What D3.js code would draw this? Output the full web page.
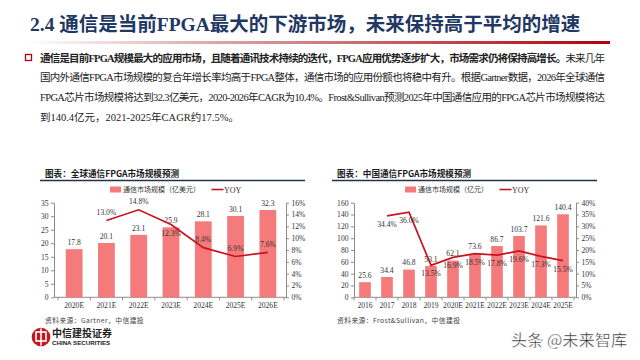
<!DOCTYPE html>
<html><head><meta charset="utf-8">
<script src="https://cdn.jsdelivr.net/npm/d3@7"></script>
<style>body{margin:0;background:#fff}svg{display:block}</style>
</head><body><svg id="c" width="640" height="360"></svg>
<script>
// ---------- data ----------
const globalYears = ["2020E","2021E","2022E","2023E","2024E","2025E","2026E"];
const globalMarket = [17.8,20.1,23.1,25.9,28.1,30.1,32.3];
const globalYoy = [null,13.0,14.8,12.3,8.4,6.9,7.6];
const globalLeftTicks = [0,5,10,15,20,25,30,35];
const globalRightTicks = [0,2,4,6,8,10,12,14,16];

const chinaYears = ["2016","2017","2018","2019","2020E","2021E","2022E","2023E","2024E","2025E"];
const chinaMarket = [25.6,34.4,46.8,53.1,62.1,73.6,86.7,103.7,121.6,140.4];
const chinaYoy = [null,34.4,36.0,13.5,16.9,18.5,17.8,19.6,17.3,15.5];
const chinaLeftTicks = [0,20,40,60,80,100,120,140,160];
const chinaRightTicks = [0,5,10,15,20,25,30,35,40];

const titleText = "2.4 通信是当前FPGA最大的下游市场，未来保持高于平均的增速";
const bodyLines = [
  ["通信是目前FPGA规模最大的应用市场，且随着通讯技术持续的迭代，FPGA应用优势逐步扩大，市场需求仍将保持高增长。","未来几年"],
  ["","国内外通信FPGA市场规模的复合年增长率均高于FPGA整体，通信市场的应用份额也将稳中有升。根据Gartner数据，2026年全球通信"],
  ["","FPGA芯片市场规模将达到32.3亿美元，2020-2026年CAGR为10.4%。Frost&Sullivan预测2025年中国通信应用的FPGA芯片市场规模将达"],
  ["","到140.4亿元，2021-2025年CAGR约17.5%。"]
];

// ---------- style ----------
const FONT = "'Liberation Serif','Noto Sans CJK SC',serif";
const CJK = "'Noto Sans CJK SC','Liberation Serif',sans-serif";
const BAR = "#f47a7b", LINE = "#c8141e", NAVY = "#1f3864", AX = "#8c8c8c";
const FS = 7.6;

const svg = d3.select("#c");
const defs = svg.append("defs");
const g = defs.append("linearGradient").attr("id","ul").attr("x1","0").attr("x2","1");
g.append("stop").attr("offset","0").attr("stop-color","#ffffff");
g.append("stop").attr("offset","0.35").attr("stop-color","#d9a0a0");
g.append("stop").attr("offset","1").attr("stop-color","#b00010");

// title
svg.append("text").attr("x",30).attr("y",31).attr("font-family",FONT).attr("font-weight","bold")
  .attr("font-size",19.5).attr("fill",NAVY).text(titleText);
svg.append("rect").attr("x",26).attr("y",41).attr("width",584).attr("height",3).attr("fill","url(#ul)");

// bullet
svg.append("rect").attr("x",25.5).attr("y",54.5).attr("width",6).attr("height",6)
  .attr("fill","none").attr("stroke","#b00010").attr("stroke-width",1.3);
bodyLines.forEach((ln,i)=>{
  const t = svg.append("text").attr("x",40).attr("y",61.5+i*19.8).attr("font-family",FONT)
    .attr("font-size",10.5).attr("fill","#222");
  if(i<3) t.attr("textLength",565).attr("lengthAdjust","spacing");
  if(ln[0]) t.append("tspan").attr("font-weight","bold").text(ln[0]);
  t.append("tspan").text(ln[1]);
});

function drawChart(cfg){
  const top = 202.7, bot = 297.3;
  const root = svg.append("g");
  // chart title
  root.append("text").attr("x",cfg.titleX).attr("y",176.5).attr("font-family",CJK).attr("font-weight","bold")
    .attr("font-size",8.6).attr("fill","#1a1a1a").text(cfg.title);
  root.append("line").attr("x1",cfg.ruleX1).attr("x2",cfg.ruleX2).attr("y1",180.5).attr("y2",180.5)
    .attr("stroke","#24324a").attr("stroke-width",1.4);
  // legend
  root.append("rect").attr("x",cfg.legX).attr("y",186.5).attr("width",11).attr("height",6).attr("fill",BAR);
  root.append("text").attr("x",cfg.legX+13).attr("y",192.3).attr("font-family",CJK).attr("font-size",7)
    .attr("fill","#333").text(cfg.legText);
  root.append("line").attr("x1",cfg.legLineX).attr("x2",cfg.legLineX+12).attr("y1",189.5).attr("y2",189.5)
    .attr("stroke",LINE).attr("stroke-width",1.6);
  root.append("text").attr("x",cfg.legLineX+12.5).attr("y",192.6).attr("font-family",FONT).attr("font-size",8)
    .attr("fill","#333").text("YOY");

  const x = d3.scaleBand().domain(cfg.cats).range(cfg.band).paddingInner(cfg.pad).paddingOuter(cfg.pad/2);
  const y = d3.scaleLinear().domain([0,cfg.leftMax]).range([bot,top]);
  const y2 = d3.scaleLinear().domain([0,cfg.rightMax]).range([bot,top]);

  // axes
  const la = root.append("g").attr("transform",`translate(${cfg.axL},0)`)
    .call(d3.axisLeft(y).tickValues(cfg.leftTicks).tickSize(3).tickSizeOuter(0).tickPadding(2.5));
  const ra = root.append("g").attr("transform",`translate(${cfg.axR},0)`)
    .call(d3.axisRight(y2).tickValues(cfg.rightTicks).tickFormat(d=>d+"%").tickSize(3).tickSizeOuter(0).tickPadding(2.5));
  [la,ra].forEach(a=>{
    a.select(".domain").attr("stroke",AX);
    a.selectAll(".tick line").attr("stroke",AX);
    a.selectAll("text").attr("font-family",FONT).attr("font-size",FS).attr("fill","#333");
  });
  // x axis
  root.append("line").attr("x1",cfg.axL).attr("x2",cfg.axR).attr("y1",bot).attr("y2",bot).attr("stroke",AX);
  const step = x.step();
  root.selectAll(".xt").data(cfg.cats.concat([null])).join("line")
    .attr("x1",(d,i)=> cfg.band[0] + i*step).attr("x2",(d,i)=> cfg.band[0] + i*step)
    .attr("y1",bot).attr("y2",bot+3).attr("stroke",AX);
  root.selectAll(".xl").data(cfg.cats).join("text")
    .attr("x",d=>x(d)+x.bandwidth()/2).attr("y",307.5).attr("text-anchor","middle")
    .attr("font-family",FONT).attr("font-size",FS).attr("fill","#333").text(d=>d);

  // bars
  root.selectAll(".bar").data(cfg.values).join("rect")
    .attr("x",(d,i)=>x(cfg.cats[i])).attr("width",x.bandwidth())
    .attr("y",d=>y(d)).attr("height",d=>bot-y(d)).attr("fill",BAR);
  root.selectAll(".bl").data(cfg.values).join("text")
    .attr("x",(d,i)=>x(cfg.cats[i])+x.bandwidth()/2).attr("y",d=>y(d)-4.3)
    .attr("text-anchor","middle").attr("font-family",FONT).attr("font-size",FS).attr("fill","#333")
    .text(d=>d.toFixed(1));

  // yoy line
  const pts = cfg.yoy.map((v,i)=>({v,c:cfg.cats[i]})).filter(p=>p.v!=null);
  root.append("path").datum(pts)
    .attr("d",d3.line().x(p=>x(p.c)+x.bandwidth()/2).y(p=>y2(p.v)))
    .attr("fill","none").attr("stroke",LINE).attr("stroke-width",1.7);
  root.selectAll(".yl").data(pts).join("text")
    .attr("x",p=>x(p.c)+x.bandwidth()/2)
    .attr("y",(p,i)=> y2(p.v) + (cfg.yoyPlace(i)==="above" ? -5.3 : 11))
    .attr("text-anchor","middle").attr("font-family",FONT).attr("font-size",FS).attr("fill","#333")
    .text(p=>p.v.toFixed(1)+"%");

  root.append("text").attr("x",cfg.titleX).attr("y",322.5).attr("font-family",CJK).attr("font-size",6.8)
    .attr("fill","#444").attr("letter-spacing",0.4).text(cfg.source);
}

drawChart({
  title:"图表：全球通信FPGA市场规模预测", titleX:45, ruleX1:40, ruleX2:305,
  legX:110, legText:"通信市场规模（亿美元）", legLineX:211.5,
  cats:globalYears, values:globalMarket, yoy:globalYoy,
  band:[58,284], pad:0.48, axL:54, axR:286,
  leftMax:35, rightMax:16, leftTicks:globalLeftTicks, rightTicks:globalRightTicks,
  yoyPlace:i=> i===2 ? "below" : "above",
  source:"资料来源：Gartner，中信建投"
});
drawChart({
  title:"图表：中国通信FPGA市场规模预测", titleX:337, ruleX1:332, ruleX2:597,
  legX:405, legText:"通信市场规模（亿元）", legLineX:499.5,
  cats:chinaYears, values:chinaMarket, yoy:chinaYoy,
  band:[354,574], pad:0.47, axL:354, axR:576,
  leftMax:160, rightMax:40, leftTicks:chinaLeftTicks, rightTicks:chinaRightTicks,
  yoyPlace:i=> "below",
  source:"资料来源：Frost&Sullivan，中信建投"
});

// logo
const lg = svg.append("g");
lg.append("circle").attr("cx",41).attr("cy",337).attr("r",9.3).attr("fill","#c8141e");
lg.append("rect").attr("x",36).attr("y",332).attr("width",10).attr("height",9).attr("fill","none")
  .attr("stroke","#fff").attr("stroke-width",1.6);
lg.append("line").attr("x1",41).attr("x2",41).attr("y1",328.5).attr("y2",345.5).attr("stroke","#fff").attr("stroke-width",1.6);
lg.append("text").attr("x",52).attr("y",337).attr("font-family",CJK).attr("font-weight","bold")
  .attr("font-size",10).attr("fill","#222").text("中信建投证券");
lg.append("text").attr("x",52).attr("y",345).attr("font-family","'Liberation Sans',sans-serif").attr("font-weight","bold")
  .attr("font-size",6.2).attr("fill","#222").text("CHINA SECURITIES");

// watermark
svg.append("text").attr("x",511).attr("y",346).attr("font-family",CJK).attr("font-size",16.2)
  .attr("fill","#2a2a2a").attr("stroke","#fff").attr("stroke-width",0.4).text("头条 @未来智库");
</script></body></html>
